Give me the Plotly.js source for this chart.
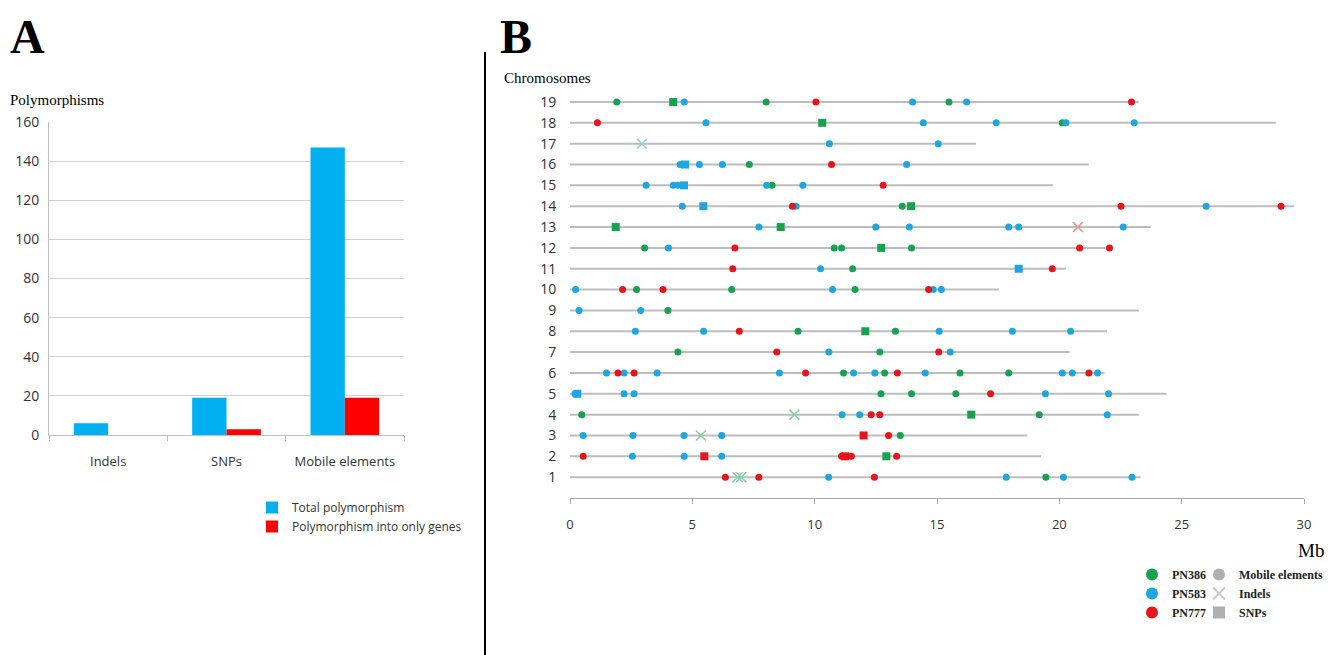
<!DOCTYPE html>
<html>
<head>
<meta charset="utf-8">
<script src="https://cdn.plot.ly/plotly-3.0.1.min.js"></script>
<style>html,body{margin:0;padding:0;background:#fff}#chart{width:1334px;height:655px}</style>
</head>
<body>
<div id="chart"></div>
<script>
// ---------- Panel A data ----------
const categories = ["Indels", "SNPs", "Mobile elements"];
const totalPolymorphism = [6, 19, 147];
const genePolymorphism = [0, 3, 19];
const yTicksA = [0, 20, 40, 60, 80, 100, 120, 140, 160];

// ---------- Panel B data ----------
const chromosomes = [1,2,3,4,5,6,7,8,9,10,11,12,13,14,15,16,17,18,19];
const chromosomeLengthMb = [23.32,19.25,18.69,23.25,24.38,21.84,20.42,21.95,23.25,17.53,20.27,22.07,23.74,29.6,19.75,21.2,16.59,28.85,23.25];
const xTicksB = [0, 5, 10, 15, 20, 25, 30];

// [chromosome, position Mb]
const PN386_mobile = [[19,1.91],[19,8.02],[19,15.49],[18,20.12],[16,7.33],[15,8.26],[14,13.58],
  [12,3.05],[12,10.8],[12,11.1],[12,13.96],[11,11.55],[10,2.72],[10,6.61],[10,11.65],[9,4.0],
  [8,9.32],[8,13.3],[7,4.41],[7,12.66],[6,11.18],[6,12.86],[6,15.94],[6,17.93],[5,12.71],[5,13.96],
  [5,15.77],[4,0.48],[4,19.18],[3,13.5],[1,19.45]];
const PN386_snp = [[19,4.22],[18,10.31],[14,13.94],[13,1.87],[13,8.61],[12,12.72],[8,12.07],[4,16.4],[2,12.93]];
const PN386_indel = [[4,9.17],[3,5.35],[1,6.85],[1,7.0]];

const PN583_mobile = [[19,4.67],[19,14.0],[19,16.21],[18,5.56],[18,14.44],[18,17.42],[18,20.27],[18,23.06],
  [17,10.6],[17,15.05],[16,4.5],[16,5.29],[16,6.23],[16,13.76],[15,3.11],[15,4.22],[15,4.4],[15,8.04],[15,9.52],
  [14,4.59],[14,9.24],[14,26.0],[13,7.72],[13,12.5],[13,13.87],[13,17.93],[13,18.34],[13,22.61],[12,4.02],
  [11,10.24],[10,0.23],[10,10.73],[10,14.85],[10,15.18],[9,0.37],[9,2.89],[8,2.67],[8,5.46],[8,15.09],[8,18.08],
  [8,20.46],[7,10.58],[7,15.54],[6,1.49],[6,2.21],[6,3.56],[6,8.56],[6,11.59],[6,12.46],[6,14.52],[6,20.12],
  [6,20.53],[6,21.56],[5,0.2],[5,2.21],[5,2.62],[5,19.43],[5,22.01],[4,11.12],[4,11.84],[4,21.96],
  [3,0.54],[3,2.57],[3,4.66],[3,6.2],[2,2.55],[2,4.67],[2,6.2],[1,10.57],[1,17.83],[1,20.17],[1,22.97]];
const PN583_snp = [[16,4.7],[15,4.66],[14,5.45],[11,18.34],[5,0.3]];
const PN583_indel = [[17,2.94]];

const PN777_mobile = [[19,10.05],[19,22.95],[18,1.12],[16,10.69],[15,12.8],[14,9.09],[14,22.52],[14,29.06],
  [12,6.74],[12,20.83],[12,22.05],[11,6.65],[11,19.71],[10,2.15],[10,3.8],[10,14.66],[8,6.92],[7,8.45],[7,15.07],
  [6,1.96],[6,2.62],[6,9.63],[6,13.38],[6,21.21],[5,17.19],[4,12.31],[4,12.66],[3,13.02],[2,0.54],[2,11.1],
  [2,11.5],[2,13.35],[1,6.35],[1,7.72],[1,12.44]];
const PN777_snp = [[3,12.0],[2,5.49],[2,11.25]];
const PN777_indel = [[13,20.76]];

const strainNames = ["PN386", "PN583", "PN777"];
const typeNames = ["Mobile elements", "Indels", "SNPs"];

// ---------- styles ----------
const BLUE_A = "#00b0f0", RED_A = "#ff0000";
const GREEN = "#17a34e", BLUE = "#1ea6e0", RED = "#e8141c";
const GREEN_X = "#86cfa6", BLUE_X = "#8dd0ee", RED_X = "#f08a8e";
const serif = "Liberation Serif, Times New Roman, serif";
const sans = "Open Sans, Arial, sans-serif";

const traces = [];

// Panel A bars
traces.push({type:"bar", x:categories, y:totalPolymorphism, name:"Total polymorphism",
  marker:{color:BLUE_A}, xaxis:"x", yaxis:"y", legend:"legend", hoverinfo:"skip"});
traces.push({type:"bar", x:categories, y:genePolymorphism, name:"Polymorphism into only genes",
  marker:{color:RED_A}, xaxis:"x", yaxis:"y", legend:"legend", hoverinfo:"skip"});

// Panel B chromosome lines
const lx = [], ly = [];
chromosomes.forEach((c, i) => { lx.push(0, chromosomeLengthMb[i], null); ly.push(c, c, null); });
traces.push({type:"scatter", mode:"lines", x:lx, y:ly, line:{color:"#bdbdbd", width:2},
  xaxis:"x2", yaxis:"y2", showlegend:false, hoverinfo:"skip"});

function pts(arr, color, symbol, size, lineOpts) {
  return {type:"scatter", mode:"markers", x:arr.map(p=>p[1]), y:arr.map(p=>p[0]),
    marker:Object.assign({color:color, symbol:symbol, size:size}, lineOpts ? {line:lineOpts} : {line:{width:0}}),
    xaxis:"x2", yaxis:"y2", showlegend:false, hoverinfo:"skip"};
}
traces.push(pts(PN386_indel, GREEN_X, "x-thin-open", 10, {color:GREEN_X, width:1.5}));
traces.push(pts(PN583_indel, BLUE_X, "x-thin-open", 10, {color:BLUE_X, width:1.5}));
traces.push(pts(PN777_indel, RED_X, "x-thin-open", 10, {color:RED_X, width:1.5}));
traces.push(pts(PN386_snp, GREEN, "square", 8));
traces.push(pts(PN583_snp, BLUE, "square", 8));
traces.push(pts(PN777_snp, RED, "square", 8));
traces.push(pts(PN386_mobile, GREEN, "circle", 7));
traces.push(pts(PN583_mobile, BLUE, "circle", 7));
traces.push(pts(PN777_mobile, RED, "circle", 7));

// Legend entries for panel B
[GREEN, BLUE, RED].forEach((col, i) => {
  traces.push({type:"scatter", mode:"markers", x:[null], y:[null], name:strainNames[i],
    marker:{color:col, symbol:"circle", size:16}, xaxis:"x2", yaxis:"y2", legend:"legend2", hoverinfo:"skip"});
});
[["circle","#b0b0b0",{width:0}],["x-thin-open","#c8c8c8",{color:"#c8c8c8",width:1.5}],["square","#b0b0b0",{width:0}]].forEach((s, i) => {
  traces.push({type:"scatter", mode:"markers", x:[null], y:[null], name:typeNames[i],
    marker:{color:s[1], symbol:s[0], size:9, line:s[2]}, xaxis:"x2", yaxis:"y2", legend:"legend3", hoverinfo:"skip"});
});

const W = 1334, H = 655;
const px = v => v / W, py = v => 1 - v / H;

const layout = {
  width: W, height: H,
  margin: {l:0, r:0, t:0, b:0},
  paper_bgcolor: "#fff", plot_bgcolor: "rgba(0,0,0,0)",
  showlegend: true,
  barmode: "group", bargap: 0.42, bargroupgap: 0,
  xaxis: {domain:[px(49), px(404)], anchor:"y", type:"category",
    showline:true, linecolor:"#bfbfbf", linewidth:1, ticks:"outside", tickson:"boundaries",
    ticklen:5, tickcolor:"#bfbfbf", ticklabelstandoff:14, tickfont:{family:sans, size:13, color:"#333"}, showgrid:false, fixedrange:true},
  yaxis: {domain:[py(435), py(122)], anchor:"x", range:[0,160], tickvals:yTicksA,
    showline:true, linecolor:"#bfbfbf", gridcolor:"#d0d0d0", gridwidth:1, zeroline:false,
    ticks:"outside", ticklen:6, tickcolor:"rgba(0,0,0,0)", tickfont:{family:sans, size:14, color:"#333"}, fixedrange:true},
  xaxis2: {domain:[px(570), px(1304)], anchor:"y2", range:[0,30], tickvals:xTicksB,
    showline:true, linecolor:"#a6a6a6", linewidth:1, ticks:"outside", ticklen:5, tickcolor:"#a6a6a6",
    ticklabelstandoff:9, showgrid:false, zeroline:false, tickfont:{family:sans, size:13, color:"#333"}, fixedrange:true},
  yaxis2: {domain:[py(498), py(92)], anchor:"x2", range:[0, 19.48], tickvals:chromosomes,
    showline:false, showgrid:false, zeroline:false, ticks:"outside", ticklen:10, tickcolor:"rgba(0,0,0,0)",
    tickfont:{family:sans, size:14, color:"#333"}, fixedrange:true},
  legend: {x:px(252), y:py(493), xanchor:"left", yanchor:"top", orientation:"v",
    bgcolor:"rgba(0,0,0,0)", font:{family:sans, size:12, color:"#333"}, itemwidth:30, tracegroupgap:0},
  legend2: {x:px(1132), y:py(560), xanchor:"left", yanchor:"top", orientation:"v",
    bgcolor:"rgba(0,0,0,0)", font:{family:serif, size:12, color:"#222", weight:"bold"}, itemwidth:30, itemsizing:"constant"},
  legend3: {x:px(1199), y:py(560), xanchor:"left", yanchor:"top", orientation:"v",
    bgcolor:"rgba(0,0,0,0)", font:{family:serif, size:12, color:"#222", weight:"bold"}, itemwidth:30, itemsizing:"constant"},
  shapes: [
    {type:"line", xref:"paper", yref:"paper", x0:px(485), x1:px(485), y0:py(52), y1:py(655),
      line:{color:"#000", width:2}}
  ],
  annotations: [
    {text:"<b>A</b>", xref:"paper", yref:"paper", x:px(8), y:py(8), xanchor:"left", yanchor:"top",
      showarrow:false, font:{family:serif, size:48, color:"#000"}},
    {text:"<b>B</b>", xref:"paper", yref:"paper", x:px(498), y:py(8), xanchor:"left", yanchor:"top",
      showarrow:false, font:{family:serif, size:48, color:"#000"}},
    {text:"Polymorphisms", xref:"paper", yref:"paper", x:px(8), y:py(100), xanchor:"left", yanchor:"middle",
      showarrow:false, font:{family:serif, size:15, color:"#000"}},
    {text:"Chromosomes", xref:"paper", yref:"paper", x:px(502), y:py(78), xanchor:"left", yanchor:"middle",
      showarrow:false, font:{family:serif, size:15, color:"#000"}},
    {text:"Mb", xref:"paper", yref:"paper", x:px(1326), y:py(550), xanchor:"right", yanchor:"middle",
      showarrow:false, font:{family:serif, size:19, color:"#000"}}
  ]
};

Plotly.newPlot("chart", traces, layout, {staticPlot:true, displayModeBar:false});
</script>
</body>
</html>
